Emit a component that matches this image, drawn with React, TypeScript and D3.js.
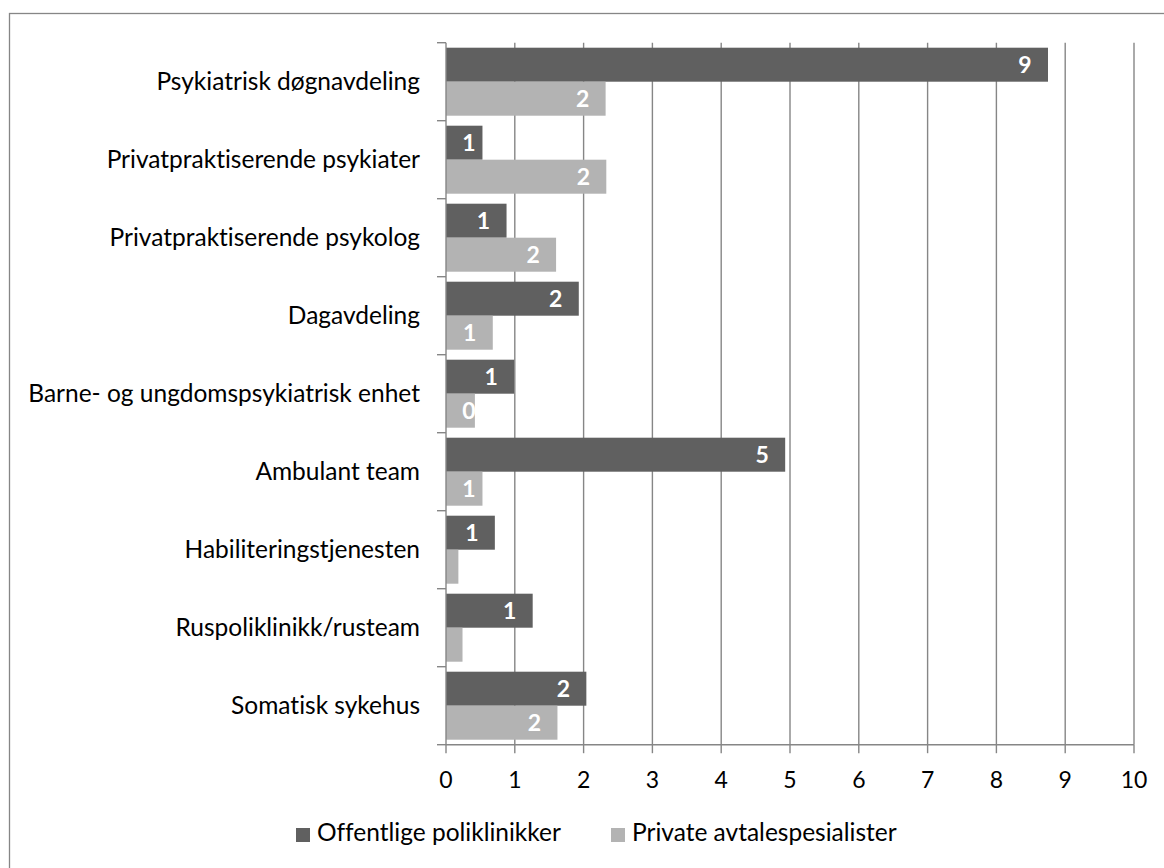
import React from "react";
import * as d3 from "d3";

const categories = [
  "Psykiatrisk døgnavdeling",
  "Privatpraktiserende psykiater",
  "Privatpraktiserende psykolog",
  "Dagavdeling",
  "Barne- og ungdomspsykiatrisk enhet",
  "Ambulant team",
  "Habiliteringstjenesten",
  "Ruspoliklinikk/rusteam",
  "Somatisk sykehus",
];
const seriesNames = ["Offentlige poliklinikker", "Private avtalespesialister"];
const offentlige = [8.75, 0.53, 0.88, 1.93, 0.99, 4.93, 0.71, 1.26, 2.04];
const private_ = [2.32, 2.33, 1.6, 0.68, 0.42, 0.53, 0.18, 0.24, 1.62];
const xTicks = [0, 1, 2, 3, 4, 5, 6, 7, 8, 9, 10];
const colors = ["#606060", "#b3b3b3"];

const W = 1164;
const H = 868;
const FONT = "Lato, 'Open Sans', sans-serif";
const FS = 23;
const FS_CAT = 24.5;
const LABEL_MIN = 0.3;

export default function App() {
  const left = 446;
  const right = 1134;
  const top = 42.7;
  const bottom = 744.7;
  const x = d3.scaleLinear().domain([0, 10]).range([left, right]);
  const y = d3.scaleBand<string>().domain(categories).range([top, bottom]).paddingInner(0).paddingOuter(0);
  const ys = d3.scaleBand<string>().domain(seriesNames).range([0, y.bandwidth()]).paddingInner(0).paddingOuter(0.147);
  const fmt = d3.format(".0f");
  const series = [offentlige, private_];
  const grid = "#868686";
  const boundaries = categories.map((c) => y(c) as number).concat([bottom]);

  return (
    <svg
      width={W}
      height={H}
      style={{ position: "absolute", left: 0, top: 0, display: "block", fontVariantLigatures: "none", fontFeatureSettings: '"liga" 0' }}
      fontFamily={FONT}
    >
      <rect x={0} y={0} width={W} height={H} fill="#fff" />
      <rect x={9.5} y={13.5} width={1300} height={1000} fill="none" stroke={grid} strokeWidth={1.3} />
      {/* gridlines */}
      {xTicks.filter((t) => t > 0).map((t) => (
        <line key={"g" + t} x1={x(t)} x2={x(t)} y1={top} y2={bottom} stroke={grid} strokeWidth={1.4} />
      ))}
      {/* bars */}
      {series.map((vals, si) =>
        categories.map((c, ci) => {
          const by = (y(c) as number) + (ys(seriesNames[si]) as number);
          const bh = ys.bandwidth();
          const x0 = x(0);
          const x1 = x(vals[ci]);
          const cx = Math.max(x1 - 23, x0 + 23);
          return (
            <g key={si + "-" + ci}>
              <rect x={x0} y={by} width={x1 - x0} height={bh} fill={colors[si]} />
              {vals[ci] >= LABEL_MIN && (
                <text x={cx} y={by + bh / 2} dy="0.37em" textAnchor="middle" fill="#fff" fontWeight="bold" fontSize={FS}>
                  {fmt(vals[ci])}
                </text>
              )}
            </g>
          );
        })
      )}
      {/* axes */}
      <line x1={left} x2={left} y1={top} y2={bottom} stroke={grid} strokeWidth={1.4} />
      {boundaries.map((b, i) => (
        <line key={"yt" + i} x1={left - 9} x2={left} y1={b} y2={b} stroke={grid} strokeWidth={1.4} />
      ))}
      <line x1={left} x2={right} y1={bottom} y2={bottom} stroke={grid} strokeWidth={1.4} />
      {xTicks.map((t) => (
        <g key={"xt" + t}>
          <line x1={x(t)} x2={x(t)} y1={bottom} y2={bottom + 8.5} stroke={grid} strokeWidth={1.4} />
          <text x={x(t)} y={787.7} textAnchor="middle" fontSize={FS} fill="#000">
            {t}
          </text>
        </g>
      ))}
      {categories.map((c) => (
        <text key={c} x={420} y={(y(c) as number) + y.bandwidth() / 2 + 8} textAnchor="end" fontSize={FS_CAT} fill="#000">
          {c}
        </text>
      ))}
      {/* legend */}
      {seriesNames.map((s, i) => {
        const lx = [296, 611][i];
        return (
          <g key={s}>
            <rect x={lx} y={828} width={14} height={14} fill={colors[i]} />
            <text x={lx + 21} y={841} fontSize={FS_CAT} fill="#000">
              {s}
            </text>
          </g>
        );
      })}
    </svg>
  );
}
